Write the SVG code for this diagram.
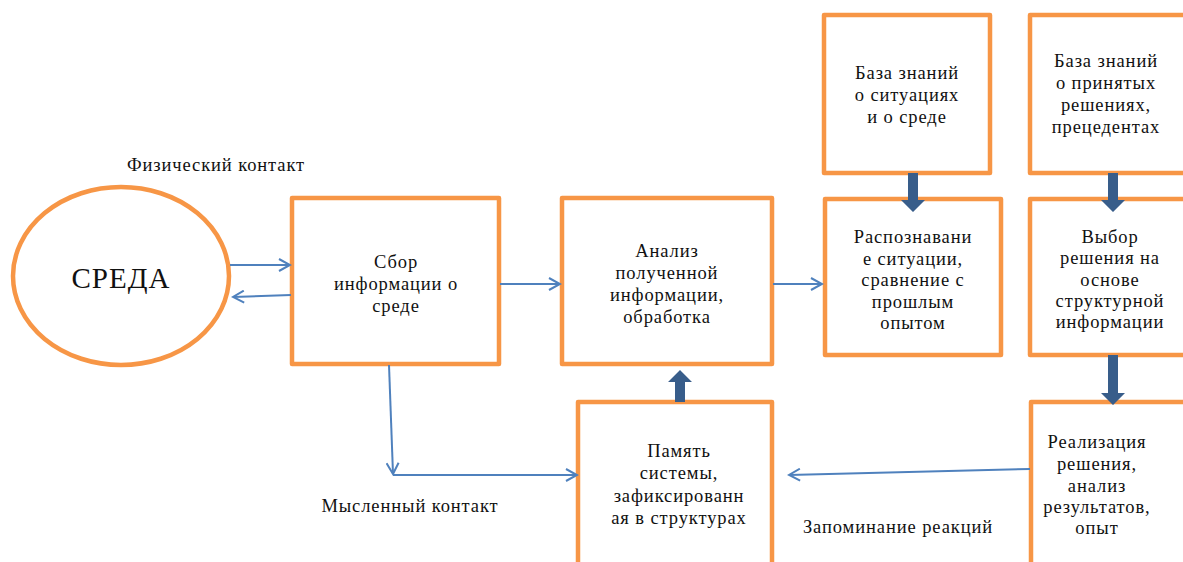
<svg xmlns="http://www.w3.org/2000/svg" width="1183" height="562" viewBox="0 0 1183 562">
<style>
.box{fill:#fff;stroke:#F79646;stroke-width:4.5;stroke-linejoin:round}
.t{font-family:"Liberation Serif","Times New Roman",serif;font-size:18.5px;letter-spacing:0.9px;fill:#111;text-anchor:middle}
.big{font-size:29px;letter-spacing:1px}
.thin{fill:none;stroke:#4F81BD;stroke-width:2}
.thick{fill:#385D8A}
</style>
<defs>
<marker id="oa" markerWidth="14" markerHeight="14" refX="12" refY="7" orient="auto" markerUnits="userSpaceOnUse">
<path d="M1,1 L12,7 L1,13" fill="none" stroke="#4F81BD" stroke-width="2"/>
</marker>
</defs>
<rect width="1183" height="562" fill="#fff"/>
<g id="sreda">
<ellipse cx="121" cy="276" rx="108" ry="89" class="box"/>
<text x="121" y="288" class="t big">СРЕДА</text>
</g>
<g id="sbor">
<rect x="292" y="198" width="207" height="166" class="box"/>
<text class="t"><tspan x="396" y="268">Сбор</tspan><tspan x="396" y="290">информации о</tspan><tspan x="396" y="312">среде</tspan></text>
</g>
<g id="analiz">
<rect x="562" y="198" width="210" height="166" class="box"/>
<text class="t"><tspan x="667" y="257">Анализ</tspan><tspan x="667" y="279">полученной</tspan><tspan x="667" y="301">информации,</tspan><tspan x="667" y="323">обработка</tspan></text>
</g>
<g id="baza1">
<rect x="824" y="15" width="166" height="158" class="box"/>
<text class="t"><tspan x="907" y="79">База знаний</tspan><tspan x="907" y="101">о ситуациях</tspan><tspan x="907" y="123">и о среде</tspan></text>
</g>
<g id="baza2">
<rect x="1030" y="15" width="160" height="158" class="box"/>
<text class="t"><tspan x="1106" y="67">База знаний</tspan><tspan x="1106" y="89">о принятых</tspan><tspan x="1106" y="111">решениях,</tspan><tspan x="1106" y="133">прецедентах</tspan></text>
</g>
<g id="raspozn">
<rect x="825" y="199" width="176" height="156" class="box"/>
<text class="t"><tspan x="913" y="243">Распознавани</tspan><tspan x="913" y="265">е ситуации,</tspan><tspan x="913" y="286">сравнение с</tspan><tspan x="913" y="308">прошлым</tspan><tspan x="913" y="329">опытом</tspan></text>
</g>
<g id="vybor">
<rect x="1030" y="199" width="160" height="156" class="box"/>
<text class="t"><tspan x="1110" y="243">Выбор</tspan><tspan x="1110" y="264">решения на</tspan><tspan x="1110" y="286">основе</tspan><tspan x="1110" y="307">структурной</tspan><tspan x="1110" y="328">информации</tspan></text>
</g>
<g id="pamyat">
<rect x="578" y="402" width="194" height="180" class="box"/>
<text class="t"><tspan x="679" y="457">Память</tspan><tspan x="679" y="479">системы,</tspan><tspan x="679" y="502">зафиксированн</tspan><tspan x="679" y="524">ая в структурах</tspan></text>
</g>
<g id="realiz">
<rect x="1031" y="402" width="160" height="180" class="box"/>
<text class="t"><tspan x="1097" y="448">Реализация</tspan><tspan x="1097" y="470">решения,</tspan><tspan x="1097" y="492">анализ</tspan><tspan x="1097" y="513">результатов,</tspan><tspan x="1097" y="534">опыт</tspan></text>
</g>
<g id="labels">
<text x="216" y="171" class="t">Физический контакт</text>
<text x="410" y="512" class="t">Мысленный контакт</text>
<text x="898" y="533" class="t">Запоминание реакций</text>
</g>
<g id="connectors">
<line x1="230" y1="265" x2="290" y2="265" class="thin" marker-end="url(#oa)"/>
<line x1="291" y1="295" x2="233" y2="297" class="thin" marker-end="url(#oa)"/>
<line x1="500" y1="284" x2="560" y2="284" class="thin" marker-end="url(#oa)"/>
<line x1="773" y1="284" x2="822" y2="284" class="thin" marker-end="url(#oa)"/>
<line x1="389" y1="365" x2="393" y2="474" class="thin" marker-end="url(#oa)"/>
<line x1="393" y1="475" x2="577" y2="475" class="thin" marker-end="url(#oa)"/>
<line x1="1030" y1="469" x2="789" y2="475" class="thin" marker-end="url(#oa)"/>
<path class="thick" d="M908,173 H918 V200 H925 L913,212 L901,200 H908 Z"/>
<path class="thick" d="M1108,173 H1118 V200 H1125 L1113,212 L1101,200 H1108 Z"/>
<path class="thick" d="M1108,355 H1118 V393 H1125 L1113,405 L1101,393 H1108 Z"/>
<path class="thick" d="M675,402 H685 V382 H692 L680,370 L668,382 H675 Z"/>
</g>
</svg>
